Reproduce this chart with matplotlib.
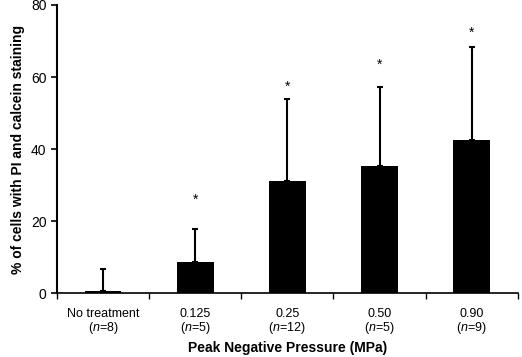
import numpy as np
import matplotlib.pyplot as plt

plt.rcParams['font.family'] = ['Liberation Sans', 'DejaVu Sans']
plt.rcParams['mathtext.fontset'] = 'custom'
plt.rcParams['mathtext.it'] = 'Liberation Sans:italic'
plt.rcParams['mathtext.rm'] = 'Liberation Sans'

groups = ['No treatment', '0.125', '0.25', '0.50', '0.90']
n_vals = [8, 5, 12, 5, 9]
means = [0.5, 8.5, 31.0, 35.2, 42.5]
errs = [6.2, 9.3, 23.0, 22.0, 25.8]
star_y = [None, 25.8, 57.2, 63.3, 72.4]

fig = plt.figure(figsize=(5.22, 3.57), dpi=100)
ax = fig.add_axes([0.109, 0.179, 0.883, 0.807])

x = np.arange(len(groups))
ax.bar(x, means, width=0.4, color='black', zorder=2)
ax.errorbar(x, means, yerr=[np.zeros(len(errs)), errs], fmt='none',
            ecolor='black', elinewidth=1.5, capsize=2, capthick=1.5, zorder=3)
for xi, sy in zip(x, star_y):
    if sy is not None:
        ax.text(xi, sy, '*', ha='center', va='center', fontsize=10)

ax.set_xlim(-0.5, len(groups) - 0.5)
ax.set_ylim(0, 80)
ax.set_yticks([0, 20, 40, 60, 80])
ax.set_xticks(x)
ax.set_xticklabels([f'{g}\n($\\it{{n}}$={n})' for g, n in zip(groups, n_vals)],
                   linespacing=1.0)
ax.set_xticks(np.arange(len(groups) + 1) - 0.5, minor=True)
ax.tick_params(axis='x', which='major', length=0, pad=11, labelsize=9)
ax.tick_params(axis='x', which='minor', length=4, width=1)
ax.tick_params(axis='y', length=4, width=1.2, labelsize=10)
for side in ['top', 'right']:
    ax.spines[side].set_visible(False)
ax.spines['left'].set_linewidth(1.5)
ax.spines['bottom'].set_linewidth(1.2)

ax.set_ylabel('% of cells with PI and calcein staining', fontweight='bold', fontsize=10)
fig.text(0.5 * (0.109 + 0.992), 1 - 348 / 357, 'Peak Negative Pressure (MPa)',
         ha='center', va='center', fontweight='bold', fontsize=10)

fig.savefig('out.png', dpi=100)
